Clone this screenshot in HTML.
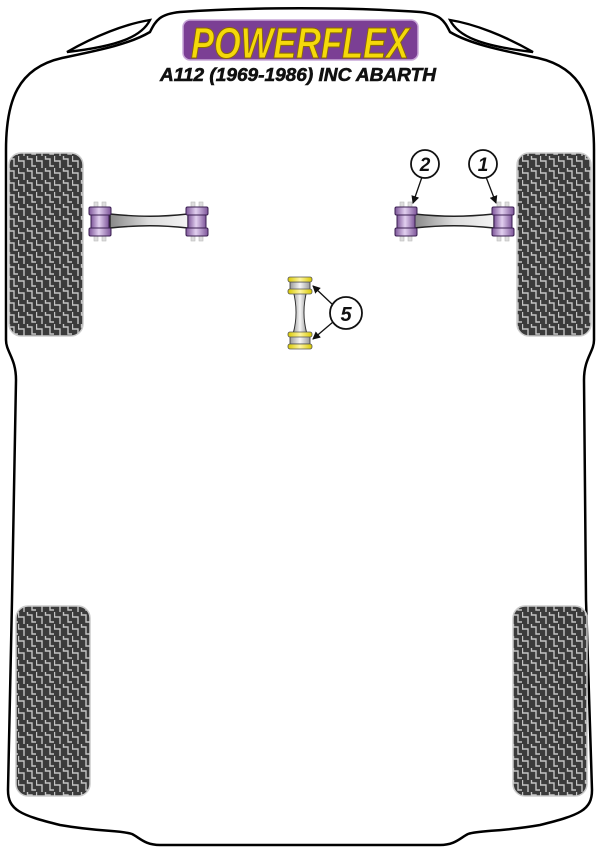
<!DOCTYPE html>
<html><head><meta charset="utf-8"><style>
html,body{margin:0;padding:0;background:#fff;}
svg{display:block;}
</style></head><body>
<svg width="600" height="848" viewBox="0 0 600 848" xmlns="http://www.w3.org/2000/svg">
<defs>
<pattern id="tread" x="0" y="0" width="18" height="12" patternUnits="userSpaceOnUse">
<rect width="18" height="12" fill="#3b3b3b"/>
<path d="M0.5 0 V5 H6 V12 M9.5 0 V3 H14 V10 H18" stroke="#c4c4c4" stroke-width="1.4" fill="none"/>
</pattern>
<linearGradient id="bar" x1="0" y1="0" x2="1" y2="0">
<stop offset="0" stop-color="#888"/><stop offset="0.5" stop-color="#ddd"/><stop offset="1" stop-color="#f4f4f4"/>
</linearGradient>
<linearGradient id="pur" x1="0" y1="0" x2="1" y2="0">
<stop offset="0" stop-color="#7d5599"/><stop offset="0.45" stop-color="#e2d0f0"/><stop offset="1" stop-color="#7d5599"/>
</linearGradient>
<linearGradient id="yel" x1="0" y1="0" x2="1" y2="0">
<stop offset="0" stop-color="#d8c800"/><stop offset="0.5" stop-color="#fff6a0"/><stop offset="1" stop-color="#d8c800"/>
</linearGradient>
<linearGradient id="grey" x1="0" y1="0" x2="1" y2="0">
<stop offset="0" stop-color="#999"/><stop offset="0.5" stop-color="#f6f6f6"/><stop offset="1" stop-color="#999"/>
</linearGradient>
<marker id="ar" markerWidth="8" markerHeight="8" refX="7" refY="4" orient="auto" markerUnits="userSpaceOnUse">
<path d="M0,0 L8,4 L0,8 z" fill="#111"/>
</marker>
<g id="bush">
<rect x="5" y="-5" width="4" height="6" fill="#ddd" stroke="#bbb" stroke-width="0.6"/>
<rect x="13" y="-5" width="4" height="6" fill="#ddd" stroke="#bbb" stroke-width="0.6"/>
<rect x="5" y="28" width="4" height="6" fill="#ddd" stroke="#bbb" stroke-width="0.6"/>
<rect x="13" y="28" width="4" height="6" fill="#ddd" stroke="#bbb" stroke-width="0.6"/>
<rect x="2" y="0" width="18" height="29" fill="url(#pur)" stroke="#3a1f50" stroke-width="1"/>
<rect x="0" y="0" width="22" height="8" rx="1.5" fill="url(#pur)" stroke="#3a1f50" stroke-width="1"/>
<rect x="0" y="21" width="22" height="8" rx="1.5" fill="url(#pur)" stroke="#3a1f50" stroke-width="1"/>
</g>
</defs>

<path d="M6 340 L6 150 C6 100 18 68 62 58 C100 50 130 44 150 32 C156 20 160 14 180 12 C250 7 350 7 420 12 C440 14 444 20 450 32 C470 44 500 50 538 58 C582 68 594 100 594 150 L594 340 C594 352 584 358 584 380 L586 600 L592 790 C592 810 580 815 540 825 C500 832 480 830 468 834 C460 838 455 845 440 845 L160 845 C145 845 140 838 132 834 C120 830 100 832 60 825 C20 815 8 810 8 790 L12 600 L16 380 C16 358 6 352 6 340 Z" fill="#fff" stroke="#000" stroke-width="2.5"/>
<path d="M67 52 C95 36 125 24 150 20 C142 36 120 46 67 52 Z" fill="#fff" stroke="#000" stroke-width="2.4"/>
<path d="M533 52 C505 36 475 24 450 20 C458 36 480 46 533 52 Z" fill="#fff" stroke="#000" stroke-width="2.4"/>

<rect x="183" y="20" width="235" height="40" rx="7" fill="#7b3f94" stroke="#c9a8d8" stroke-width="1.5"/>
<text x="300" y="58" text-anchor="middle" font-family="Liberation Sans, sans-serif" font-weight="bold" font-style="italic" font-size="44" fill="#f5d90a" stroke="#8a6a00" stroke-width="1" textLength="218" lengthAdjust="spacingAndGlyphs">POWERFLEX</text>
<text x="298" y="81" text-anchor="middle" font-family="Liberation Sans, sans-serif" font-weight="bold" font-style="italic" font-size="18" fill="#111" stroke="#111" stroke-width="0.6" textLength="276" lengthAdjust="spacingAndGlyphs">A112  (1969-1986) INC ABARTH</text>

<rect x="9" y="153" width="74" height="183" rx="12" fill="url(#tread)" stroke="#ccc" stroke-width="1.5"/>
<rect x="517" y="153" width="74" height="183" rx="12" fill="url(#tread)" stroke="#ccc" stroke-width="1.5"/>
<rect x="16" y="606" width="74" height="190" rx="12" fill="url(#tread)" stroke="#ccc" stroke-width="1.5"/>
<rect x="513" y="606" width="74" height="190" rx="12" fill="url(#tread)" stroke="#ccc" stroke-width="1.5"/>

<path d="M110 214 C140 217 160 217 188 214 L188 228 C160 225 140 225 110 228 Z" fill="url(#bar)" stroke="#222" stroke-width="1.4"/>
<use href="#bush" x="89" y="207"/>
<use href="#bush" x="186" y="207"/>
<path d="M414 214 C444 217 464 217 494 214 L494 228 C464 225 444 225 414 228 Z" fill="url(#bar)" stroke="#222" stroke-width="1.4"/>
<use href="#bush" x="395" y="207"/>
<use href="#bush" x="492" y="207"/>

<line x1="422" y1="177" x2="413" y2="203" stroke="#111" stroke-width="1.3" marker-end="url(#ar)"/>
<line x1="486" y1="177" x2="496" y2="203" stroke="#111" stroke-width="1.3" marker-end="url(#ar)"/>
<circle cx="425" cy="164" r="14" fill="#fff" stroke="#111" stroke-width="1.8"/>
<circle cx="483" cy="164" r="14" fill="#fff" stroke="#111" stroke-width="1.8"/>
<text x="425" y="171" text-anchor="middle" font-family="Liberation Sans, sans-serif" font-weight="bold" font-style="italic" font-size="19" fill="#111">2</text>
<text x="483" y="171" text-anchor="middle" font-family="Liberation Sans, sans-serif" font-weight="bold" font-style="italic" font-size="19" fill="#111">1</text>

<path d="M293 290 C297 305 297 320 293 334 L307 334 C303 320 303 305 307 290 Z" fill="url(#grey)" stroke="#333" stroke-width="1"/>
<rect x="290" y="282" width="20" height="8" fill="url(#grey)" stroke="#333" stroke-width="0.8"/>
<rect x="288" y="277" width="24" height="5" rx="2" fill="url(#yel)" stroke="#555" stroke-width="0.8"/>
<rect x="288" y="289" width="24" height="5" rx="2" fill="url(#yel)" stroke="#555" stroke-width="0.8"/>
<rect x="290" y="336" width="20" height="8" fill="url(#grey)" stroke="#333" stroke-width="0.8"/>
<rect x="288" y="332" width="24" height="5" rx="2" fill="url(#yel)" stroke="#555" stroke-width="0.8"/>
<rect x="288" y="344" width="24" height="5" rx="2" fill="url(#yel)" stroke="#555" stroke-width="0.8"/>
<line x1="333" y1="305" x2="313" y2="286" stroke="#111" stroke-width="1.3" marker-end="url(#ar)"/>
<line x1="333" y1="322" x2="313" y2="339" stroke="#111" stroke-width="1.3" marker-end="url(#ar)"/>
<circle cx="346" cy="313" r="16" fill="#fff" stroke="#111" stroke-width="1.8"/>
<text x="346" y="321" text-anchor="middle" font-family="Liberation Sans, sans-serif" font-weight="bold" font-style="italic" font-size="20" fill="#111">5</text>
</svg>
</body></html>
